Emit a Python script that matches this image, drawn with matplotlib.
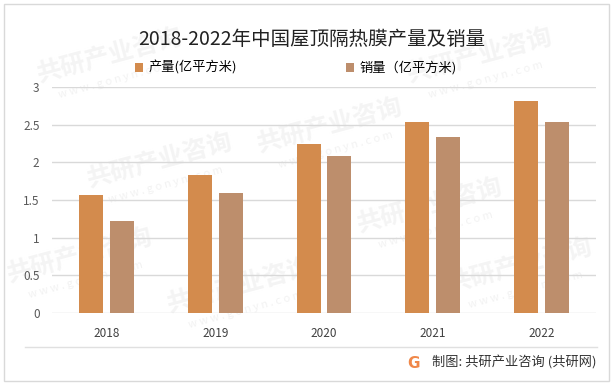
import matplotlib.pyplot as plt
from matplotlib.patches import Rectangle
from matplotlib.lines import Line2D
import numpy as np

plt.rcParams['font.family'] = ['Noto Sans CJK SC', 'DejaVu Sans']

years = ['2018', '2019', '2020', '2021', '2022']
production = [1.57, 1.83, 2.25, 2.53, 2.82]   # 产量 (亿平方米)
sales = [1.22, 1.59, 2.08, 2.33, 2.54]        # 销量 (亿平方米)

c_prod = '#D38B4D'
c_sales = '#BD8E6C'

W, H = 613, 385
fig = plt.figure(figsize=(W / 100, H / 100), dpi=100)

# faint watermarks, kept inside the frame
wm = [(160, 160), (330, 125), (480, 55), (430, 205), (240, 285), (520, 265),
      (80, 255), (110, 55)]
for x, y in wm:
    fig.text(x / W, 1 - y / H, '共研产业咨询', fontsize=18, fontweight='bold',
             color='#f4f4f4', rotation=15, ha='center', va='center', zorder=0)
    fig.text(x / W + 0.01, 1 - (y + 25) / H, 'w w w . g o n y n . c o m', fontsize=8,
             color='#f2f2f2', rotation=15, ha='center', va='center', zorder=0)

ax = fig.add_axes([52 / W, 1 - 313 / H, (596 - 52) / W, (313 - 87) / H], zorder=2)
ax.patch.set_alpha(0)

x = np.arange(len(years))
bw = 0.22
off = 0.142
b1 = ax.bar(x - off, production, bw, color=c_prod, label='产量(亿平方米)', zorder=3)
b2 = ax.bar(x + off, sales, bw, color=c_sales, label='销量（亿平方米)', zorder=3)

ax.set_xlim(-0.5, len(years) - 0.5)
ax.set_ylim(0, 3)
ax.set_yticks([0, 0.5, 1, 1.5, 2, 2.5, 3])
ax.set_yticklabels(['0', '0.5', '1', '1.5', '2', '2.5', '3'])
ax.set_xticks(x)
ax.set_xticklabels(years)
ax.grid(axis='y', color='#d9d9d9', linewidth=1, zorder=0)
for s in ax.spines.values():
    s.set_visible(False)
ax.tick_params(axis='both', length=0, labelsize=8.5, colors='#404040')
ax.tick_params(axis='y', pad=9, labelcolor='#595959')
ax.tick_params(axis='x', pad=10)

fig.text(0.508, 1 - 39 / H, '2018-2022年中国屋顶隔热膜产量及销量', fontsize=14,
         ha='center', va='center', color='#222222')

fig.legend(handles=[b1, b2], loc='center', bbox_to_anchor=(296 / W, 1 - 68 / H),
           ncol=2, frameon=False, fontsize=9.5, handlelength=0.6, handleheight=0.6,
           handletextpad=0.4, columnspacing=8.3)

# frame and footer
fig.add_artist(Rectangle((3.5 / W, 4 / H), (609 - 3.5) / W, (381 - 4) / H,
                         transform=fig.transFigure, fill=False,
                         edgecolor='#d9d9d9', linewidth=1))
fig.add_artist(Line2D([25 / W, 597 / W], [1 - 347 / H, 1 - 347 / H],
                      transform=fig.transFigure, color='#e0e0e0', linewidth=1))
fig.text(414 / W, 1 - 363 / H, 'G', fontsize=11, fontweight='bold', color='#F0884A',
         ha='center', va='center', family='DejaVu Sans')
fig.text(597 / W, 1 - 363 / H, '制图: 共研产业咨询 (共研网)', fontsize=9.5,
         ha='right', va='center', color='#333333')

fig.savefig('out.png', dpi=100)
